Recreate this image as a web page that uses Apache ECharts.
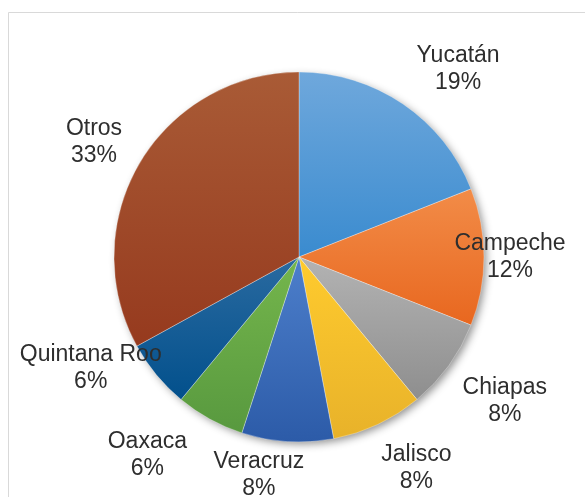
<!DOCTYPE html>
<html>
<head>
<meta charset="utf-8">
<script src="https://cdn.jsdelivr.net/npm/echarts@6/dist/echarts.min.js"></script>
<style>
  html, body { margin: 0; padding: 0; background: #fff; }
  #chart { width: 585px; height: 497px; }
</style>
</head>
<body>
<div id="chart"></div>
<script>
// Share by state (percent)
const states = ['Yucatán', 'Campeche', 'Chiapas', 'Jalisco', 'Veracruz', 'Oaxaca', 'Quintana Roo', 'Otros'];
const shares = [19, 12, 8, 8, 8, 6, 6, 33];

// Slice colours: lighter top, darker bottom
const topColors = ['#6fa8dc', '#f28c48', '#b3b3b3', '#ffcb2e', '#4d7fcb', '#75b64c', '#2a6aa0', '#a95b36'];
const bottomColors = ['#3a8bcf', '#e8671f', '#8e8e8e', '#e8b22a', '#2c5ba8', '#58993f', '#02508c', '#963a1e'];

// Label placement: radial distance from centre and angular nudge (degrees)
const labelDist = [248, 211, 250, 240, 220, 248, 235, 236];
const labelTurn = [5.7, -0.4, -1.4, -4.1, 6.9, 8.9, 12, -0.9];

const CX = 299, CY = 257, R = 185;

const total = shares.reduce((a, b) => a + b, 0);
const midAngles = [];
let acc = 0;
shares.forEach(v => {
  midAngles.push((acc + v / 2) / total * 360);
  acc += v;
});

const chart = echarts.init(document.getElementById('chart'), null, { renderer: 'canvas' });

chart.setOption({
  backgroundColor: '#ffffff',
  animation: false,
  graphic: [{
    type: 'rect',
    shape: { x: 8.5, y: 12.5, width: 700, height: 600 },
    style: { fill: 'none', stroke: '#d9d9d9', lineWidth: 1 },
    silent: true,
    z: -10
  }],
  series: [
    {
      // drop shadow under the pie
      type: 'pie',
      silent: true,
      center: [CX, CY],
      radius: R - 1,
      label: { show: false },
      labelLine: { show: false },
      data: [{ value: 1 }],
      itemStyle: {
        color: '#ffffff',
        shadowColor: 'rgba(0,0,0,0.45)',
        shadowBlur: 9,
        shadowOffsetX: 3,
        shadowOffsetY: 3
      },
      z: 1
    },
    {
      type: 'pie',
      center: [CX, CY],
      radius: R,
      startAngle: 90,
      clockwise: true,
      avoidLabelOverlap: false,
      z: 2,
      data: states.map((name, i) => ({
        name: name,
        value: shares[i],
        itemStyle: {
          color: new echarts.graphic.LinearGradient(0, 0, 0, 1, [
            { offset: 0, color: topColors[i] },
            { offset: 1, color: bottomColors[i] }
          ])
        }
      })),
      itemStyle: {
        borderColor: 'rgba(255,255,255,0.5)',
        borderWidth: 0.6
      },
      label: {
        show: true,
        position: 'outside',
        formatter: p => p.name + '\n' + p.value + '%',
        fontFamily: '"Liberation Sans", Arial, sans-serif',
        fontSize: 23,
        lineHeight: 27,
        color: '#2e2e2e',
        align: 'center'
      },
      labelLine: { show: false },
      labelLayout: params => {
        const i = params.dataIndex;
        const a = (midAngles[i] + labelTurn[i]) * Math.PI / 180;
        return {
          x: CX + labelDist[i] * Math.sin(a),
          y: CY - labelDist[i] * Math.cos(a) + 2,
          align: 'center',
          verticalAlign: 'middle'
        };
      }
    }
  ]
});
</script>
</body>
</html>
